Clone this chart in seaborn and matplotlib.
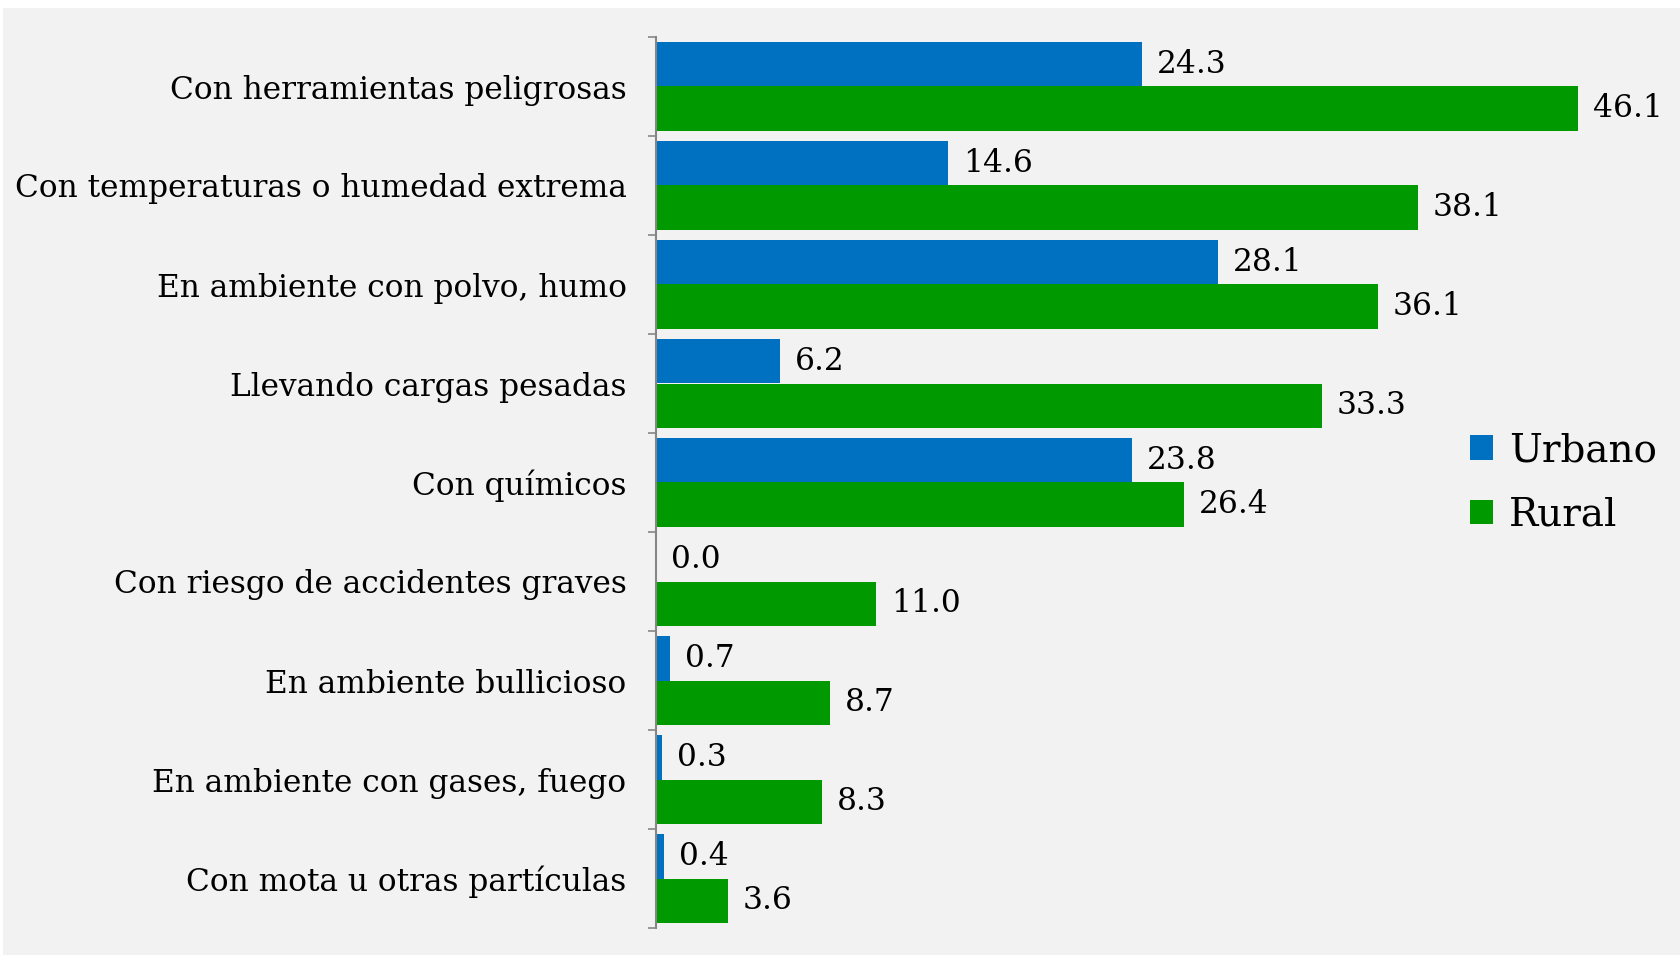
import pandas as pd
import matplotlib.pyplot as plt
import seaborn as sns
from matplotlib.patches import Rectangle

categorias = ['Con herramientas peligrosas', 'Con temperaturas o humedad extrema',
              'En ambiente con polvo, humo', 'Llevando cargas pesadas', 'Con químicos',
              'Con riesgo de accidentes graves', 'En ambiente bullicioso',
              'En ambiente con gases, fuego', 'Con mota u otras partículas']
urbano = [24.3, 14.6, 28.1, 6.2, 23.8, 0.0, 0.7, 0.3, 0.4]
rural = [46.1, 38.1, 36.1, 33.3, 26.4, 11.0, 8.7, 8.3, 3.6]

df = pd.DataFrame({
    'categoria': categorias * 2,
    'valor': urbano + rural,
    'zona': ['Urbano'] * len(categorias) + ['Rural'] * len(categorias),
})

sns.set_theme(style='white')
plt.rcParams['font.family'] = ['DejaVu Serif']

fig = plt.figure(figsize=(16.81, 9.55), dpi=100, facecolor='white')
fig.patches.append(Rectangle((3 / 1681, 0), 1, 1 - 8 / 955, transform=fig.transFigure,
                             facecolor='#F2F2F2', edgecolor='none', zorder=-10))
ax = fig.add_axes([655.7 / 1681, 1 - 928 / 955, 1000 / 1681, (928 - 37) / 955])
ax.set_facecolor('none')

sns.barplot(data=df, y='categoria', x='valor', hue='zona', orient='h',
            palette=['#0070C0', '#009900'], saturation=1, width=0.9,
            linewidth=0, ax=ax)

for cont in ax.containers:
    ax.bar_label(cont, fmt='%.1f', padding=11, fontsize=22.5, color='black')

ax.set_xlim(0, 50)
ax.set_ylim(8.5, -0.5)
ax.set_xlabel('')
ax.set_ylabel('')
ax.set_xticks([])
ax.tick_params(axis='y', which='major', left=False, length=0, pad=21,
               labelsize=22.5, labelcolor='black')
ax.set_yticks([i + 0.5 for i in range(-1, len(categorias))], minor=True)
ax.tick_params(axis='y', which='minor', left=True, length=6, width=1.2,
               color='#868686', direction='out')
for s in ['top', 'right', 'bottom']:
    ax.spines[s].set_visible(False)
ax.spines['left'].set_color('#868686')
ax.spines['left'].set_linewidth(1.5)

leg = ax.legend(loc='center left', bbox_to_anchor=(1435 / 1681, 1 - 483 / 955),
                bbox_transform=fig.transFigure, frameon=False, fontsize=28,
                handlelength=0.6, handleheight=0.6, handletextpad=0.4, labelspacing=0.7)
for t in leg.get_texts():
    t.set_color('black')

fig.savefig('out.png', dpi=100, facecolor=fig.get_facecolor())
